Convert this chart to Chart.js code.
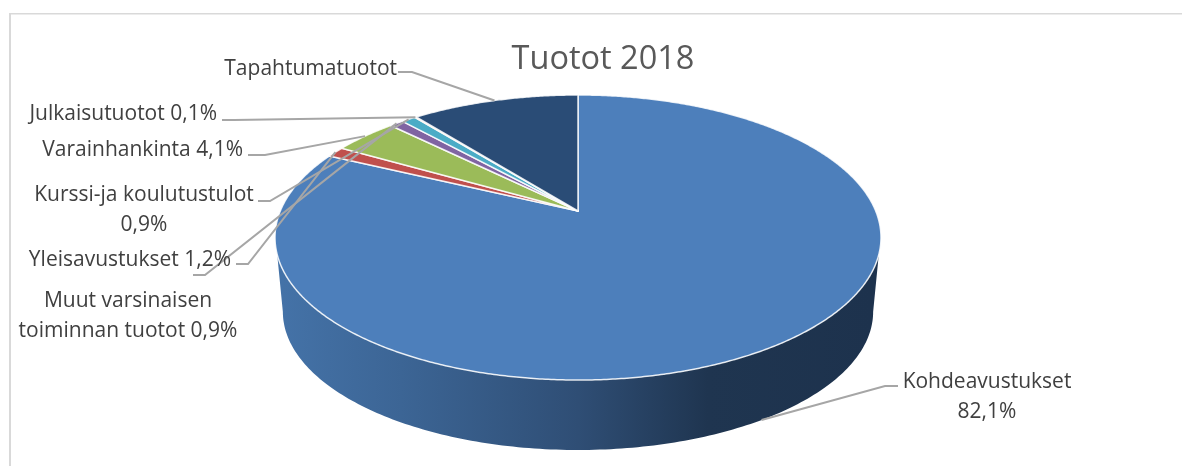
<!DOCTYPE html>
<html>
<head>
<meta charset="utf-8">
<style>html,body{margin:0;padding:0;background:#fff}canvas{display:block}</style>
<script src="https://cdn.jsdelivr.net/npm/chart.js@4/dist/chart.umd.min.js"></script>
</head>
<body>
<canvas id="c" width="1182" height="466"></canvas>
<script>
const chartTitle = 'Tuotot 2018';
const categories = ['Kohdeavustukset','Yleisavustukset','Varainhankinta','Muut varsinaisen toiminnan tuotot','Kurssi-ja koulutustulot','Julkaisutuotot','Tapahtumatuotot'];
const values = [82.1,1.2,4.1,0.9,0.9,0.1,10.7];
const colors = ['#4d7fbb','#c0504d','#9bbb59','#8064a2','#4bacc6','#f79646','#2a4c76'];
const labelLines = [['Kohdeavustukset','82,1%'],['Yleisavustukset 1,2%'],['Varainhankinta 4,1%'],['Muut varsinaisen','toiminnan tuotot 0,9%'],['Kurssi-ja koulutustulot','0,9%'],['Julkaisutuotot 0,1%'],['Tapahtumatuotot']];

// Layout of the labels: text anchor (x, first-line y, align) and leader start/elbow.
const labelLayout = [
  {x:987,y:382,align:'center',from:[898,386],elbow:[885,386],rim:'lower'},
  {x:231,y:260,align:'right',from:[236,264],elbow:[248,264]},
  {x:243,y:150,align:'right',from:[248,155],elbow:[265,155]},
  {x:128,y:301,align:'center',from:[193,275],elbow:[205,275]},
  {x:144,y:195,align:'center',from:[258,201],elbow:[270,201]},
  {x:217,y:114,align:'right',from:[222,120],elbow:[234,120]},
  {x:397,y:69,align:'right',from:[398,72],elbow:[412,72]}
];
const lineHeight = 30;
const FONT = '"Open Sans"';

// Perspective projection of the tilted disc (top face and lower rim)
const topDisc = {cx:578,cy:211,rx:297.7,ry:137.6,p:0.186};
const lowDisc = {cx:578,cy:286,rx:290,ry:133.5,p:0.186};
function project(d,a,r=1){
  const u=Math.cos(a)*r,v=Math.sin(a)*r,w=1/(1-d.p*v);
  return [d.cx+d.rx*u*w,d.cy+d.ry*v*w];
}

const pie3d = {
  id:'pie3d',
  beforeDraw(chart){
    const c=chart.ctx;
    c.save();
    c.fillStyle='#fff';c.fillRect(0,0,chart.width,chart.height);
    c.fillStyle='#d9d9d9';
    c.fillRect(9,13,2,chart.height-13);
    c.fillRect(9,13,chart.width-9,1.5);
    c.restore();
  },
  beforeDatasetDraw(chart,args){
    const c=chart.ctx,arcs=args.meta.data;
    c.save();
    // Side wall of the front of the disc
    const g=c.createLinearGradient(283,0,873,0);
    g.addColorStop(0,'#4472a7');g.addColorStop(0.2,'#3c6595');g.addColorStop(0.5,'#2f4e75');
    g.addColorStop(0.72,'#1f3550');g.addColorStop(1,'#1d324d');
    c.beginPath();
    const a0=Math.asin(0.3),a1=Math.PI-a0,steps=180;
    for(let i=0;i<=steps;i++){const q=project(topDisc,a0+(a1-a0)*i/steps);i?c.lineTo(q[0],q[1]):c.moveTo(q[0],q[1]);}
    const b0=Math.asin(0.186),b1=Math.PI-b0;
    for(let i=0;i<=steps;i++){const q=project(lowDisc,b1-(b1-b0)*i/steps);c.lineTo(q[0],q[1]);}
    c.closePath();c.fillStyle=g;c.fill();
    // Top face: one wedge per arc that the library computed
    arcs.forEach((arc,i)=>{
      c.beginPath();
      c.moveTo(topDisc.cx,topDisc.cy);
      const n=Math.max(2,Math.ceil((arc.endAngle-arc.startAngle)/0.008));
      for(let k=0;k<=n;k++){
        const q=project(topDisc,arc.startAngle+(arc.endAngle-arc.startAngle)*k/n);
        c.lineTo(q[0],q[1]);
      }
      c.closePath();
      c.fillStyle=arc.options.backgroundColor;c.fill();
      c.lineWidth=1.5;c.strokeStyle='rgba(255,255,255,0.85)';c.lineJoin='round';c.stroke();
    });
    c.restore();
    return false;
  },
  afterDraw(chart){
    const c=chart.ctx,arcs=chart.getDatasetMeta(0).data;
    c.save();
    c.strokeStyle='#a6a6a6';c.lineWidth=2;
    arcs.forEach((arc,i)=>{
      const L=labelLayout[i];
      const q=project(L.rim==='lower'?lowDisc:topDisc,(arc.startAngle+arc.endAngle)/2);
      c.beginPath();c.moveTo(L.from[0],L.from[1]);c.lineTo(L.elbow[0],L.elbow[1]);c.lineTo(q[0],q[1]);c.stroke();
    });
    c.fillStyle='#404040';c.font='21px '+FONT;c.textBaseline='middle';
    labelLines.forEach((lines,i)=>{
      const L=labelLayout[i];
      c.textAlign=L.align;
      lines.forEach((t,k)=>c.fillText(t,L.x,L.y+k*lineHeight));
    });
    c.restore();
  }
};

new Chart(document.getElementById('c'),{
  type:'pie',
  data:{labels:categories,datasets:[{data:values,backgroundColor:colors,borderWidth:0}]},
  plugins:[pie3d],
  options:{
    responsive:false,animation:false,
    layout:{padding:{left:24}},
    plugins:{
      legend:{display:false},tooltip:{enabled:false},
      title:{display:true,text:chartTitle,color:'#595959',font:{family:FONT,size:32.5,weight:'normal'},padding:{top:40,bottom:10}}
    }
  }
});
</script>
</body>
</html>
